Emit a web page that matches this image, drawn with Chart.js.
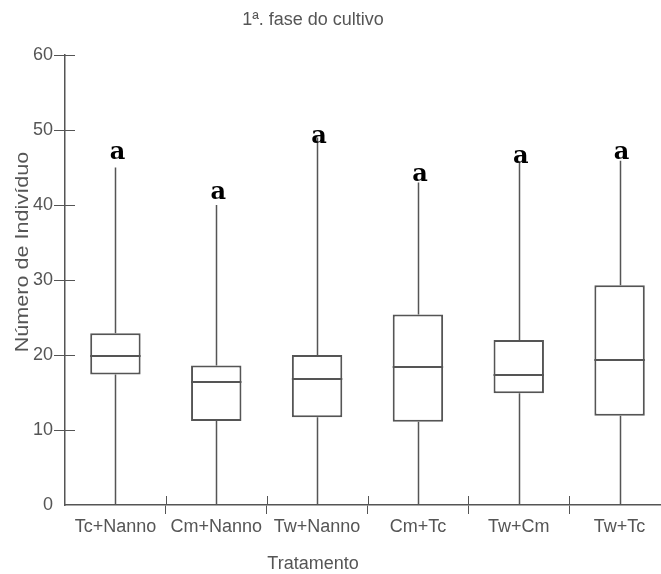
<!DOCTYPE html>
<html>
<head>
<meta charset="utf-8">
<script src="https://cdn.jsdelivr.net/npm/chart.js@4.4.1/dist/chart.umd.min.js"></script>
<style>
  html, body { margin: 0; padding: 0; background: #fff; overflow: hidden; }
  #wrap { width: 680px; height: 574px; }
</style>
</head>
<body>
<div id="wrap"><canvas id="boxChart" width="680" height="574"></canvas></div>
<script>
// Box plot - 1a fase do cultivo

const categories = ['Tc+Nanno', 'Cm+Nanno', 'Tw+Nanno', 'Cm+Tc', 'Tw+Cm', 'Tw+Tc'];
const minValues = [0, 0, 0, 0, 0, 0];
const q1Values = [17.4, 11.2, 11.7, 11.1, 14.9, 11.9];
const medianValues = [19.9, 16.4, 16.8, 18.4, 17.4, 19.3];
const q3Values = [22.9, 18.6, 20.0, 25.4, 22.0, 29.3];
const maxValues = [45, 40, 49, 43, 45.8, 45.9];
const letters = ['a', 'a', 'a', 'a', 'a', 'a'];
const letterY = [46.1, 40.8, 48.3, 43.2, 45.6, 46.2];
const yTicks = [0, 10, 20, 30, 40, 50, 60];

const lineColor = '#555555';
const textColor = '#555555';
const sansFont = '"Liberation Sans", Arial, sans-serif';

// whiskers, medians, crossing ticks and texts
const boxExtras = {
    id: 'boxExtras',
    afterDatasetsDraw(chart) {
        const ctx = chart.ctx;
        const y = chart.scales.y;
        const meta = chart.getDatasetMeta(0);
        ctx.save();
        ctx.strokeStyle = lineColor;
        meta.data.forEach(function(bar, i) {
            const x = Math.round(bar.x) + 0.5;
            const half = bar.width / 2;
            ctx.lineWidth = 1.5;
            ctx.beginPath();
            ctx.moveTo(x, y.getPixelForValue(minValues[i]));
            ctx.lineTo(x, y.getPixelForValue(q1Values[i]));
            ctx.moveTo(x, y.getPixelForValue(q3Values[i]));
            ctx.lineTo(x, y.getPixelForValue(maxValues[i]));
            ctx.stroke();
            ctx.lineWidth = 2;
            const my = Math.round(y.getPixelForValue(medianValues[i]));
            ctx.beginPath();
            ctx.moveTo(bar.x - half, my);
            ctx.lineTo(bar.x + half, my);
            ctx.stroke();
        });
        ctx.restore();
    },
    afterDraw(chart) {
        const ctx = chart.ctx;
        const area = chart.chartArea;
        const x = chart.scales.x;
        const y = chart.scales.y;
        const meta = chart.getDatasetMeta(0);
        ctx.save();

        // tick marks on the inner side of the axes
        ctx.strokeStyle = lineColor;
        ctx.lineWidth = 1;
        ctx.beginPath();
        yTicks.forEach(function(v) {
            if (v === 0) return;
            const py = Math.round(y.getPixelForValue(v)) + 0.5;
            ctx.moveTo(area.left, py);
            ctx.lineTo(area.left + 10, py);
        });
        for (let i = 1; i < categories.length; i++) {
            const px = Math.round((x.getPixelForValue(i - 1) + x.getPixelForValue(i)) / 2) + 0.5;
            ctx.moveTo(px, area.bottom);
            ctx.lineTo(px, area.bottom - 9);
        }
        ctx.stroke();

        // letters above the whiskers
        ctx.fillStyle = '#000';
        ctx.font = 'bold 24px "DejaVu Serif", serif';
        ctx.textAlign = 'center';
        ctx.textBaseline = 'alphabetic';
        meta.data.forEach(function(bar, i) {
            ctx.fillText(letters[i], bar.x + 2, y.getPixelForValue(letterY[i]));
        });

        // titles
        ctx.fillStyle = textColor;
        ctx.font = '18px ' + sansFont;
        ctx.fillText('1ª. fase do cultivo', 313, 25);
        ctx.fillText('Tratamento', 313, 569);

        ctx.translate(28, 252);
        ctx.rotate(-Math.PI / 2);
        ctx.scale(1.2, 1);
        ctx.fillText('Número de Indivíduo', 0, 0);
        ctx.restore();
    }
};

function initBoxChart() {
    const ctx = document.getElementById('boxChart').getContext('2d');
    const boxes = categories.map(function(c, i) { return [q1Values[i], q3Values[i]]; });

    window.boxChart = new Chart(ctx, {
        type: 'bar',
        data: {
            labels: categories,
            datasets: [{
                data: boxes,
                backgroundColor: '#ffffff',
                borderColor: lineColor,
                borderWidth: 2,
                borderSkipped: false,
                barPercentage: 0.5,
                categoryPercentage: 1.0
            }]
        },
        options: {
            responsive: false,
            animation: false,
            layout: {
                padding: { top: 55, right: 10, left: 0, bottom: 0 }
            },
            plugins: {
                legend: { display: false },
                tooltip: { enabled: false },
                title: { display: false }
            },
            scales: {
                x: {
                    offset: true,
                    grid: {
                        offset: true,
                        drawOnChartArea: false,
                        drawTicks: true,
                        tickLength: 9,
                        color: function(c) { return c.index === 0 ? 'rgba(0,0,0,0)' : lineColor; }
                    },
                    border: { display: true, color: lineColor, width: 1.5 },
                    ticks: {
                        color: textColor,
                        padding: 2,
                        maxRotation: 0,
                        autoSkip: false,
                        font: { family: sansFont, size: 18 }
                    },
                    afterFit: function(scale) { scale.height = 69; }
                },
                y: {
                    min: 0,
                    max: 60,
                    grid: {
                        drawOnChartArea: false,
                        drawTicks: true,
                        tickLength: 11,
                        color: function(c) { return c.tick && c.tick.value === 0 ? 'rgba(0,0,0,0)' : lineColor; }
                    },
                    border: { display: true, color: lineColor, width: 1.5 },
                    ticks: {
                        stepSize: 10,
                        color: textColor,
                        padding: 1,
                        font: { family: sansFont, size: 18 }
                    },
                    afterFit: function(scale) { scale.width = 65; }
                }
            }
        },
        plugins: [boxExtras]
    });
}

initBoxChart();
</script>
</body>
</html>
